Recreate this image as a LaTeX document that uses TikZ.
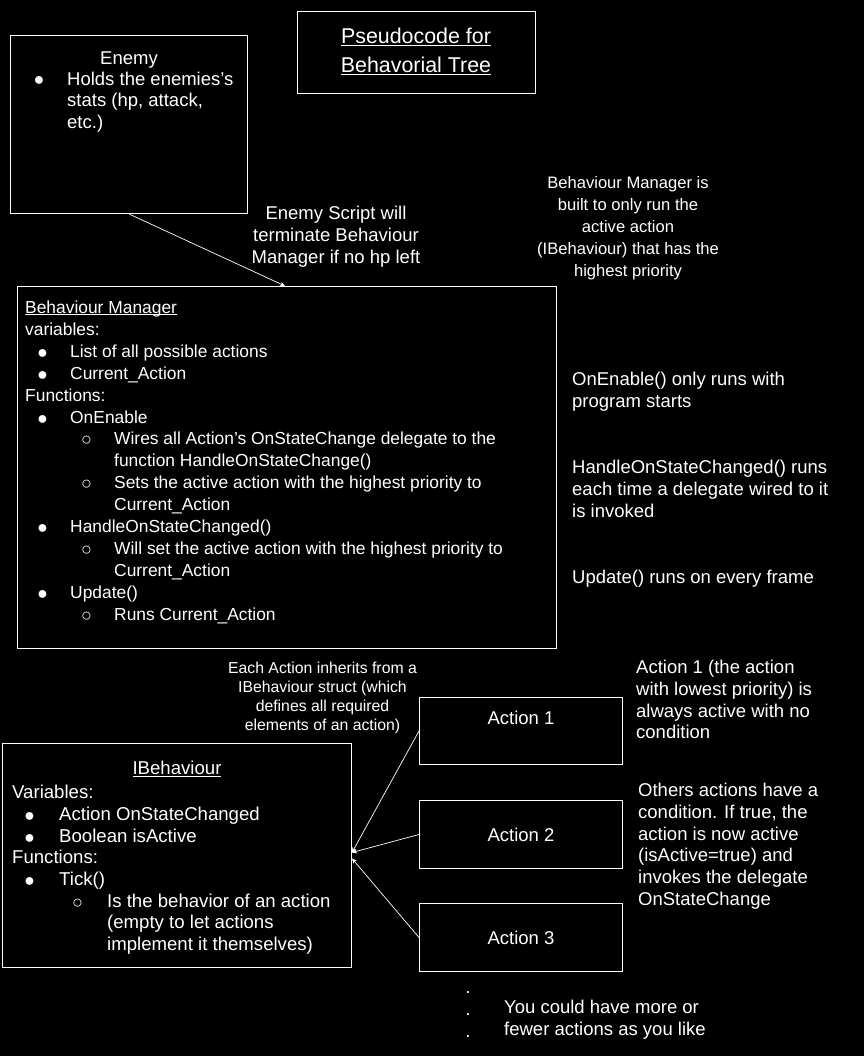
\documentclass[tikz,border=0pt]{standalone}
\usepackage{fontspec}
\usepackage{graphicx}
\setmainfont{Liberation Sans}
\usetikzlibrary{arrows.meta,calc}
\newsavebox\ulbx
\newcommand\ulin[1]{\sbox\ulbx{#1}\rlap{\usebox\ulbx}\rule[-0.11em]{\wd\ulbx}{0.055em}}
\newcommand\bulF{\raisebox{-1pt}{\fontsize{18}{18}\selectfont ●}}
\newcommand\bulO{\raisebox{-1pt}{\fontsize{18}{18}\selectfont ○}}
% Behaviour Manager list levels
\newcommand\bA{\hspace*{12pt}\makebox[33pt][l]{\bulF}}
\newcommand\bB{\hspace*{56pt}\makebox[33pt][l]{\bulO}}
\newcommand\cB{\hspace*{89pt}}
% IBehaviour list levels
\newcommand\iA{\hspace*{12pt}\makebox[35pt][l]{\bulF}}
\newcommand\iB{\hspace*{60pt}\makebox[35pt][l]{\bulO}}
\newcommand\iC{\hspace*{95pt}}
\tikzset{
  fnormal/.style={font=\fontsize{18.5}{21.7}\selectfont},
  txt/.style={text=white, inner sep=0pt, align=left, fnormal},
  boxnode/.style={draw=white, line width=1pt, rectangle, inner sep=0pt, anchor=north west, txt},
  conn/.style={draw=white, line width=0.7pt, -{Stealth[length=5pt,width=4.5pt]}},
}
\begin{document}
\begin{tikzpicture}[x=1pt,y=-1pt]
\useasboundingbox (0,0) rectangle (864,1056);
\fill[black] (0,0) rectangle (864,1056);

% boxes
\node[boxnode, minimum width=237pt, minimum height=178pt] (enemy) at (10,35) {};
\node[boxnode, minimum width=238pt, minimum height=82pt] (title) at (297,11) {};
\node[boxnode, minimum width=539pt, minimum height=362pt] (bm) at (17,286) {};
\node[boxnode, minimum width=349pt, minimum height=224pt] (ib) at (2,743) {};
\node[boxnode, minimum width=203pt, minimum height=67pt] (a1) at (419,697) {};
\node[boxnode, minimum width=203pt, minimum height=68pt] (a2) at (419,800) {Action 2};
\node[boxnode, minimum width=203pt, minimum height=68pt] (a3) at (419,903) {Action 3};
\node[txt] (a1lbl) at ($(a1.center)+(0,-13.5)$) {Action 1};

% title
\node[txt, align=center, anchor=north, font=\fontsize{21.4}{29}\selectfont] (titletxt) at (416,28)
  {\ulin{Pseudocode for}\\\ulin{Behavorial Tree}};

% enemy content
\node[txt, anchor=north] (enemyhd) at (129,51.5) {Enemy};
\node[txt, anchor=base west] (enemybul) at (33.5,85) {\bulF};
\node[txt, anchor=north west] (enemytxt) at (67,71.5) {Holds the enemies’s\\stats (hp, attack,\\etc.)};

% notes at top
\node[txt, align=center, anchor=north] (termnote) at (336,206)
  {Enemy Script will\\terminate Behaviour\\Manager if no hp left};
\node[txt, align=center, anchor=north, font=\fontsize{16.6}{22}\selectfont] (bmnote) at (628,176)
  {Behaviour Manager is\\built to only run the\\active action\\(IBehaviour) that has the\\highest priority};

% behaviour manager content
\node[txt, anchor=north west, font=\fontsize{17.4}{21.93}\selectfont] (bmtxt) at (25,300.6)
  {\ulin{Behaviour Manager}\\
   variables:\\
   \bA List of all possible actions\\
   \bA Current\_Action\\
   Functions:\\
   \bA OnEnable\\
   \bB Wires all Action’s OnStateChange delegate to the\\
   \cB function HandleOnStateChange()\\
   \bB Sets the active action with the highest priority to\\
   \cB Current\_Action\\
   \bA HandleOnStateChanged()\\
   \bB Will set the active action with the highest priority to\\
   \cB Current\_Action\\
   \bA Update()\\
   \bB Runs Current\_Action};

% right notes
\node[txt, anchor=north west] (n1) at (572,372.2) {OnEnable() only runs with\\program starts};
\node[txt, anchor=north west] (n2) at (572,460.2) {HandleOnStateChanged() runs\\each time a delegate wired to it\\is invoked};
\node[txt, anchor=north west] (n3) at (572,570.2) {Update() runs on every frame};

% inherit note
\node[txt, align=center, anchor=north, font=\fontsize{15.8}{19}\selectfont] (inhnote) at (322.5,662)
  {Each Action inherits from a\\IBehaviour struct (which\\defines all required\\elements of an action)};

% IBehaviour content
\node[txt, anchor=north, font=\fontsize{18.6}{21.7}\selectfont] (ibhd) at (177,761) {\ulin{IBehaviour}};
\node[txt, anchor=north west, font=\fontsize{18.6}{21.7}\selectfont] (ibtxt) at (12,785)
  {Variables:\\
   \iA Action OnStateChanged\\
   \iA Boolean isActive\\
   Functions:\\
   \iA Tick()\\
   \iB Is the behavior of an action\\
   \iC (empty to let actions\\
   \iC implement it themselves)};

% action notes
\node[txt, anchor=north west] (a1note) at (636,660.2)
  {Action 1 (the action\\with lowest priority) is\\always active with no\\condition};
\node[txt, anchor=north west] (othnote) at (638,783.2)
  {Others actions have a\\condition. If true, the\\action is now active\\(isActive=true) and\\invokes the delegate\\OnStateChange};

% more actions
\node[txt, align=center, anchor=north] (dots) at (468,991.5) {.\\.\\.};
\node[txt, anchor=north west] (morenote) at (504,1000.2) {You could have more or\\fewer actions as you like};

% connectors
\draw[conn] ($(enemy.south west)+(119,0)$) -- ($(bm.north west)+(268,0)$);
\draw[conn] (a1.west) -- ($(ib.east)+(0,-3)$);
\draw[conn] (a2.west) -- ($(ib.east)+(0,-3)$);
\draw[conn] (a3.west) -- ($(ib.east)+(0,3)$);
\end{tikzpicture}
\end{document}
